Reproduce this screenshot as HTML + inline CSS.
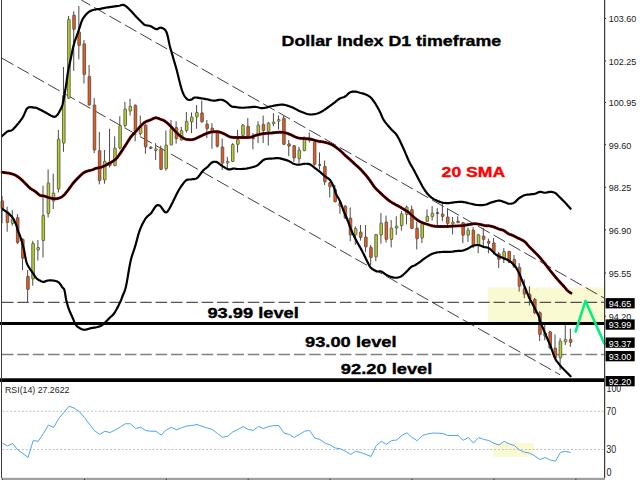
<!DOCTYPE html><html><head><meta charset="utf-8"><style>html,body{margin:0;padding:0;background:#fff;width:640px;height:480px;overflow:hidden}svg{display:block}text{font-family:"Liberation Sans",sans-serif}</style></head><body>
<svg width="640" height="480" viewBox="0 0 640 480">
<rect x="0" y="0" width="640" height="480" fill="#fff"/>
<rect x="488" y="287.5" width="116" height="34.5" fill="#FAFAD2"/>
<rect x="493.1" y="442.9" width="41.2" height="13.9" fill="#FAFAD2"/>
<line x1="2" y1="302.3" x2="604" y2="302.3" stroke="#2a2a2a" stroke-width="1" stroke-dasharray="11.52 3.84"/>
<line x1="2" y1="354.5" x2="604" y2="354.5" stroke="#808080" stroke-width="1.3" stroke-dasharray="11.52 3.84"/>
<line x1="81.23" y1="0" x2="604" y2="297.98" stroke="#2a2a2a" stroke-width="0.9" stroke-dasharray="13.260 4.420" stroke-dashoffset="2.795"/>
<line x1="2" y1="58.23" x2="560" y2="374.73" stroke="#2a2a2a" stroke-width="0.9" stroke-dasharray="13.244 4.415"/>
<line x1="2.04" y1="195.80" x2="2.04" y2="223.30" stroke="#4a4a4a" stroke-width="1"/>
<rect x="1.04" y="200.80" width="2.6" height="7.50" rx="0.5" fill="#F05A14" stroke="#4a4a4a" stroke-width="0.8"/>
<line x1="7.16" y1="206.70" x2="7.16" y2="231.70" stroke="#4a4a4a" stroke-width="1"/>
<rect x="6.16" y="211.70" width="2.6" height="10.80" rx="0.5" fill="#F05A14" stroke="#4a4a4a" stroke-width="0.8"/>
<line x1="12.28" y1="210.00" x2="12.28" y2="225.80" stroke="#4a4a4a" stroke-width="1"/>
<rect x="11.28" y="219.20" width="2.6" height="4.10" rx="0.5" fill="#B9D21E" stroke="#4a4a4a" stroke-width="0.8"/>
<line x1="17.40" y1="214.20" x2="17.40" y2="244.20" stroke="#4a4a4a" stroke-width="1"/>
<rect x="16.40" y="217.50" width="2.6" height="25.00" rx="0.5" fill="#F05A14" stroke="#4a4a4a" stroke-width="0.8"/>
<line x1="22.52" y1="238.30" x2="22.52" y2="270.00" stroke="#4a4a4a" stroke-width="1"/>
<rect x="21.52" y="239.20" width="2.6" height="19.10" rx="0.5" fill="#F05A14" stroke="#4a4a4a" stroke-width="0.8"/>
<line x1="27.64" y1="270.00" x2="27.64" y2="302.00" stroke="#4a4a4a" stroke-width="1"/>
<rect x="26.64" y="276.25" width="2.6" height="13.15" rx="0.5" fill="#F05A14" stroke="#4a4a4a" stroke-width="0.8"/>
<line x1="32.76" y1="240.80" x2="32.76" y2="285.60" stroke="#4a4a4a" stroke-width="1"/>
<rect x="31.76" y="243.30" width="2.6" height="35.70" rx="0.5" fill="#B9D21E" stroke="#4a4a4a" stroke-width="0.8"/>
<line x1="37.88" y1="240.00" x2="37.88" y2="260.60" stroke="#4a4a4a" stroke-width="1"/>
<rect x="36.88" y="247.50" width="2.6" height="2.50" rx="0.5" fill="#B9D21E" stroke="#4a4a4a" stroke-width="0.8"/>
<line x1="43.00" y1="185.60" x2="43.00" y2="257.50" stroke="#4a4a4a" stroke-width="1"/>
<rect x="42.00" y="215.40" width="2.6" height="25.10" rx="0.5" fill="#B9D21E" stroke="#4a4a4a" stroke-width="0.8"/>
<line x1="48.12" y1="169.40" x2="48.12" y2="217.50" stroke="#4a4a4a" stroke-width="1"/>
<rect x="47.12" y="183.00" width="2.6" height="30.50" rx="0.5" fill="#B9D21E" stroke="#4a4a4a" stroke-width="0.8"/>
<line x1="53.24" y1="173.75" x2="53.24" y2="209.00" stroke="#4a4a4a" stroke-width="1"/>
<rect x="52.24" y="193.00" width="2.6" height="8.00" rx="0.5" fill="#B9D21E" stroke="#4a4a4a" stroke-width="0.8"/>
<line x1="58.36" y1="130.00" x2="58.36" y2="192.50" stroke="#4a4a4a" stroke-width="1"/>
<rect x="57.36" y="139.00" width="2.6" height="50.00" rx="0.5" fill="#B9D21E" stroke="#4a4a4a" stroke-width="0.8"/>
<line x1="63.48" y1="67.00" x2="63.48" y2="151.80" stroke="#4a4a4a" stroke-width="1"/>
<rect x="62.48" y="95.50" width="2.6" height="47.70" rx="0.5" fill="#B9D21E" stroke="#4a4a4a" stroke-width="0.8"/>
<line x1="68.60" y1="16.00" x2="68.60" y2="98.50" stroke="#4a4a4a" stroke-width="1"/>
<rect x="67.60" y="19.40" width="2.6" height="78.90" rx="0.5" fill="#B9D21E" stroke="#4a4a4a" stroke-width="0.8"/>
<line x1="73.72" y1="11.25" x2="73.72" y2="70.80" stroke="#4a4a4a" stroke-width="1"/>
<rect x="72.72" y="15.00" width="2.6" height="14.40" rx="0.5" fill="#F05A14" stroke="#4a4a4a" stroke-width="0.8"/>
<line x1="78.84" y1="6.00" x2="78.84" y2="59.40" stroke="#4a4a4a" stroke-width="1"/>
<rect x="77.84" y="31.90" width="2.6" height="13.70" rx="0.5" fill="#F05A14" stroke="#4a4a4a" stroke-width="0.8"/>
<line x1="83.96" y1="40.00" x2="83.96" y2="83.50" stroke="#4a4a4a" stroke-width="1"/>
<rect x="82.96" y="43.75" width="2.6" height="30.75" rx="0.5" fill="#F05A14" stroke="#4a4a4a" stroke-width="0.8"/>
<line x1="89.08" y1="65.00" x2="89.08" y2="105.60" stroke="#4a4a4a" stroke-width="1"/>
<rect x="88.08" y="76.40" width="2.6" height="28.60" rx="0.5" fill="#F05A14" stroke="#4a4a4a" stroke-width="0.8"/>
<line x1="94.20" y1="98.10" x2="94.20" y2="153.10" stroke="#4a4a4a" stroke-width="1"/>
<rect x="93.20" y="105.00" width="2.6" height="45.00" rx="0.5" fill="#F05A14" stroke="#4a4a4a" stroke-width="0.8"/>
<line x1="99.32" y1="131.90" x2="99.32" y2="184.40" stroke="#4a4a4a" stroke-width="1"/>
<rect x="98.32" y="150.60" width="2.6" height="30.00" rx="0.5" fill="#F05A14" stroke="#4a4a4a" stroke-width="0.8"/>
<line x1="104.44" y1="150.00" x2="104.44" y2="183.75" stroke="#4a4a4a" stroke-width="1"/>
<rect x="103.44" y="161.25" width="2.6" height="18.75" rx="0.5" fill="#B9D21E" stroke="#4a4a4a" stroke-width="0.8"/>
<line x1="109.56" y1="128.75" x2="109.56" y2="167.50" stroke="#4a4a4a" stroke-width="1"/>
<rect x="108.56" y="161.90" width="2.6" height="3.70" rx="0.5" fill="#F05A14" stroke="#4a4a4a" stroke-width="0.8"/>
<line x1="114.68" y1="136.25" x2="114.68" y2="166.25" stroke="#4a4a4a" stroke-width="1"/>
<rect x="113.68" y="148.10" width="2.6" height="17.50" rx="0.5" fill="#B9D21E" stroke="#4a4a4a" stroke-width="0.8"/>
<line x1="119.80" y1="116.25" x2="119.80" y2="149.40" stroke="#4a4a4a" stroke-width="1"/>
<rect x="118.80" y="125.60" width="2.6" height="22.50" rx="0.5" fill="#B9D21E" stroke="#4a4a4a" stroke-width="0.8"/>
<line x1="124.92" y1="101.90" x2="124.92" y2="127.50" stroke="#4a4a4a" stroke-width="1"/>
<rect x="123.92" y="109.00" width="2.6" height="16.60" rx="0.5" fill="#B9D21E" stroke="#4a4a4a" stroke-width="0.8"/>
<line x1="130.04" y1="98.75" x2="130.04" y2="115.60" stroke="#4a4a4a" stroke-width="1"/>
<rect x="129.04" y="106.25" width="2.6" height="4.75" rx="0.5" fill="#B9D21E" stroke="#4a4a4a" stroke-width="0.8"/>
<line x1="135.16" y1="104.40" x2="135.16" y2="141.25" stroke="#4a4a4a" stroke-width="1"/>
<rect x="134.16" y="105.25" width="2.6" height="26.00" rx="0.5" fill="#F05A14" stroke="#4a4a4a" stroke-width="0.8"/>
<line x1="140.28" y1="115.60" x2="140.28" y2="135.60" stroke="#4a4a4a" stroke-width="1"/>
<rect x="139.28" y="126.90" width="2.6" height="6.85" rx="0.5" fill="#B9D21E" stroke="#4a4a4a" stroke-width="0.8"/>
<line x1="145.40" y1="124.40" x2="145.40" y2="153.75" stroke="#4a4a4a" stroke-width="1"/>
<rect x="144.40" y="125.00" width="2.6" height="21.90" rx="0.5" fill="#F05A14" stroke="#4a4a4a" stroke-width="0.8"/>
<line x1="150.52" y1="146.50" x2="150.52" y2="149.00" stroke="#4a4a4a" stroke-width="1"/>
<rect x="149.52" y="146.90" width="2.6" height="1.60" rx="0.5" fill="#F05A14" stroke="#4a4a4a" stroke-width="0.8"/>
<line x1="155.64" y1="143.10" x2="155.64" y2="160.00" stroke="#4a4a4a" stroke-width="1"/>
<rect x="154.64" y="148.75" width="2.6" height="1.85" rx="0.5" fill="#B9D21E" stroke="#4a4a4a" stroke-width="0.8"/>
<line x1="160.76" y1="145.60" x2="160.76" y2="170.00" stroke="#4a4a4a" stroke-width="1"/>
<rect x="159.76" y="148.75" width="2.6" height="20.65" rx="0.5" fill="#F05A14" stroke="#4a4a4a" stroke-width="0.8"/>
<line x1="165.88" y1="130.60" x2="165.88" y2="170.60" stroke="#4a4a4a" stroke-width="1"/>
<rect x="164.88" y="145.00" width="2.6" height="23.75" rx="0.5" fill="#B9D21E" stroke="#4a4a4a" stroke-width="0.8"/>
<line x1="171.00" y1="120.00" x2="171.00" y2="145.00" stroke="#4a4a4a" stroke-width="1"/>
<rect x="170.00" y="128.75" width="2.6" height="16.25" rx="0.5" fill="#B9D21E" stroke="#4a4a4a" stroke-width="0.8"/>
<line x1="176.12" y1="121.25" x2="176.12" y2="143.75" stroke="#4a4a4a" stroke-width="1"/>
<rect x="175.12" y="127.50" width="2.6" height="11.25" rx="0.5" fill="#F05A14" stroke="#4a4a4a" stroke-width="0.8"/>
<line x1="181.24" y1="126.90" x2="181.24" y2="140.60" stroke="#4a4a4a" stroke-width="1"/>
<rect x="180.24" y="130.60" width="2.6" height="9.40" rx="0.5" fill="#B9D21E" stroke="#4a4a4a" stroke-width="0.8"/>
<line x1="186.36" y1="111.90" x2="186.36" y2="132.50" stroke="#4a4a4a" stroke-width="1"/>
<rect x="185.36" y="121.25" width="2.6" height="9.35" rx="0.5" fill="#B9D21E" stroke="#4a4a4a" stroke-width="0.8"/>
<line x1="191.48" y1="112.50" x2="191.48" y2="133.10" stroke="#4a4a4a" stroke-width="1"/>
<rect x="190.48" y="116.90" width="2.6" height="5.00" rx="0.5" fill="#B9D21E" stroke="#4a4a4a" stroke-width="0.8"/>
<line x1="196.60" y1="105.00" x2="196.60" y2="128.75" stroke="#4a4a4a" stroke-width="1"/>
<rect x="195.60" y="112.50" width="2.6" height="4.40" rx="0.5" fill="#B9D21E" stroke="#4a4a4a" stroke-width="0.8"/>
<line x1="201.72" y1="100.60" x2="201.72" y2="122.50" stroke="#4a4a4a" stroke-width="1"/>
<rect x="200.72" y="112.75" width="2.6" height="9.15" rx="0.5" fill="#F05A14" stroke="#4a4a4a" stroke-width="0.8"/>
<line x1="206.84" y1="120.00" x2="206.84" y2="138.10" stroke="#4a4a4a" stroke-width="1"/>
<rect x="205.84" y="124.00" width="2.6" height="4.75" rx="0.5" fill="#F05A14" stroke="#4a4a4a" stroke-width="0.8"/>
<line x1="211.96" y1="123.10" x2="211.96" y2="148.75" stroke="#4a4a4a" stroke-width="1"/>
<rect x="210.96" y="128.10" width="2.6" height="3.15" rx="0.5" fill="#F05A14" stroke="#4a4a4a" stroke-width="0.8"/>
<line x1="217.08" y1="130.00" x2="217.08" y2="147.50" stroke="#4a4a4a" stroke-width="1"/>
<rect x="216.08" y="130.60" width="2.6" height="15.65" rx="0.5" fill="#F05A14" stroke="#4a4a4a" stroke-width="0.8"/>
<line x1="222.20" y1="138.75" x2="222.20" y2="170.00" stroke="#4a4a4a" stroke-width="1"/>
<rect x="221.20" y="146.90" width="2.6" height="16.20" rx="0.5" fill="#F05A14" stroke="#4a4a4a" stroke-width="0.8"/>
<line x1="227.32" y1="156.90" x2="227.32" y2="168.10" stroke="#4a4a4a" stroke-width="1"/>
<rect x="226.32" y="161.25" width="2.6" height="1.85" rx="0.5" fill="#B9D21E" stroke="#4a4a4a" stroke-width="0.8"/>
<line x1="232.44" y1="143.10" x2="232.44" y2="162.00" stroke="#4a4a4a" stroke-width="1"/>
<rect x="231.44" y="144.40" width="2.6" height="17.10" rx="0.5" fill="#B9D21E" stroke="#4a4a4a" stroke-width="0.8"/>
<line x1="237.56" y1="130.00" x2="237.56" y2="152.50" stroke="#4a4a4a" stroke-width="1"/>
<rect x="236.56" y="139.40" width="2.6" height="5.00" rx="0.5" fill="#B9D21E" stroke="#4a4a4a" stroke-width="0.8"/>
<line x1="242.68" y1="124.00" x2="242.68" y2="136.00" stroke="#4a4a4a" stroke-width="1"/>
<rect x="241.68" y="125.00" width="2.6" height="10.60" rx="0.5" fill="#B9D21E" stroke="#4a4a4a" stroke-width="0.8"/>
<line x1="247.80" y1="118.10" x2="247.80" y2="137.50" stroke="#4a4a4a" stroke-width="1"/>
<rect x="246.80" y="126.25" width="2.6" height="10.00" rx="0.5" fill="#F05A14" stroke="#4a4a4a" stroke-width="0.8"/>
<line x1="252.92" y1="133.10" x2="252.92" y2="149.40" stroke="#4a4a4a" stroke-width="1"/>
<rect x="251.92" y="137.50" width="2.6" height="1.25" rx="0.5" fill="#F05A14" stroke="#4a4a4a" stroke-width="0.8"/>
<line x1="258.04" y1="121.25" x2="258.04" y2="143.10" stroke="#4a4a4a" stroke-width="1"/>
<rect x="257.04" y="125.00" width="2.6" height="9.40" rx="0.5" fill="#B9D21E" stroke="#4a4a4a" stroke-width="0.8"/>
<line x1="263.16" y1="115.60" x2="263.16" y2="143.10" stroke="#4a4a4a" stroke-width="1"/>
<rect x="262.16" y="124.40" width="2.6" height="6.20" rx="0.5" fill="#F05A14" stroke="#4a4a4a" stroke-width="0.8"/>
<line x1="268.28" y1="121.90" x2="268.28" y2="145.60" stroke="#4a4a4a" stroke-width="1"/>
<rect x="267.28" y="123.10" width="2.6" height="8.15" rx="0.5" fill="#B9D21E" stroke="#4a4a4a" stroke-width="0.8"/>
<line x1="273.40" y1="113.10" x2="273.40" y2="126.25" stroke="#4a4a4a" stroke-width="1"/>
<rect x="272.40" y="121.90" width="2.6" height="1.85" rx="0.5" fill="#B9D21E" stroke="#4a4a4a" stroke-width="0.8"/>
<line x1="278.52" y1="115.60" x2="278.52" y2="129.40" stroke="#4a4a4a" stroke-width="1"/>
<rect x="277.52" y="119.40" width="2.6" height="1.85" rx="0.5" fill="#B9D21E" stroke="#4a4a4a" stroke-width="0.8"/>
<line x1="283.64" y1="115.60" x2="283.64" y2="145.00" stroke="#4a4a4a" stroke-width="1"/>
<rect x="282.64" y="118.10" width="2.6" height="26.30" rx="0.5" fill="#F05A14" stroke="#4a4a4a" stroke-width="0.8"/>
<line x1="288.76" y1="140.00" x2="288.76" y2="156.25" stroke="#4a4a4a" stroke-width="1"/>
<rect x="287.76" y="143.75" width="2.6" height="2.50" rx="0.5" fill="#F05A14" stroke="#4a4a4a" stroke-width="0.8"/>
<line x1="293.88" y1="145.00" x2="293.88" y2="161.90" stroke="#4a4a4a" stroke-width="1"/>
<rect x="292.88" y="145.60" width="2.6" height="12.50" rx="0.5" fill="#F05A14" stroke="#4a4a4a" stroke-width="0.8"/>
<line x1="299.00" y1="146.90" x2="299.00" y2="163.75" stroke="#4a4a4a" stroke-width="1"/>
<rect x="298.00" y="150.00" width="2.6" height="8.75" rx="0.5" fill="#B9D21E" stroke="#4a4a4a" stroke-width="0.8"/>
<line x1="304.12" y1="136.25" x2="304.12" y2="151.25" stroke="#4a4a4a" stroke-width="1"/>
<rect x="303.12" y="139.40" width="2.6" height="11.20" rx="0.5" fill="#B9D21E" stroke="#4a4a4a" stroke-width="0.8"/>
<line x1="309.24" y1="132.50" x2="309.24" y2="142.50" stroke="#4a4a4a" stroke-width="1"/>
<rect x="308.24" y="138.50" width="2.6" height="2.00" rx="0.5" fill="#F05A14" stroke="#4a4a4a" stroke-width="0.8"/>
<line x1="314.36" y1="141.00" x2="314.36" y2="165.60" stroke="#4a4a4a" stroke-width="1"/>
<rect x="313.36" y="141.90" width="2.6" height="22.50" rx="0.5" fill="#F05A14" stroke="#4a4a4a" stroke-width="0.8"/>
<line x1="319.48" y1="152.50" x2="319.48" y2="169.40" stroke="#4a4a4a" stroke-width="1"/>
<rect x="318.48" y="164.40" width="2.6" height="1.00" rx="0.5" fill="#333" stroke="#4a4a4a" stroke-width="0.8"/>
<line x1="324.60" y1="160.60" x2="324.60" y2="185.00" stroke="#4a4a4a" stroke-width="1"/>
<rect x="323.60" y="166.25" width="2.6" height="15.65" rx="0.5" fill="#F05A14" stroke="#4a4a4a" stroke-width="0.8"/>
<line x1="329.72" y1="182.00" x2="329.72" y2="197.50" stroke="#4a4a4a" stroke-width="1"/>
<rect x="328.72" y="182.50" width="2.6" height="4.40" rx="0.5" fill="#F05A14" stroke="#4a4a4a" stroke-width="0.8"/>
<line x1="334.84" y1="185.00" x2="334.84" y2="202.00" stroke="#4a4a4a" stroke-width="1"/>
<rect x="333.84" y="189.40" width="2.6" height="12.50" rx="0.5" fill="#F05A14" stroke="#4a4a4a" stroke-width="0.8"/>
<line x1="339.96" y1="202.00" x2="339.96" y2="213.75" stroke="#4a4a4a" stroke-width="1"/>
<rect x="338.96" y="202.50" width="2.6" height="3.75" rx="0.5" fill="#F05A14" stroke="#4a4a4a" stroke-width="0.8"/>
<line x1="345.08" y1="205.00" x2="345.08" y2="219.00" stroke="#4a4a4a" stroke-width="1"/>
<rect x="344.08" y="206.25" width="2.6" height="11.85" rx="0.5" fill="#F05A14" stroke="#4a4a4a" stroke-width="0.8"/>
<line x1="350.20" y1="207.50" x2="350.20" y2="241.25" stroke="#4a4a4a" stroke-width="1"/>
<rect x="349.20" y="218.10" width="2.6" height="16.90" rx="0.5" fill="#F05A14" stroke="#4a4a4a" stroke-width="0.8"/>
<line x1="355.32" y1="226.25" x2="355.32" y2="245.00" stroke="#4a4a4a" stroke-width="1"/>
<rect x="354.32" y="228.50" width="2.6" height="6.25" rx="0.5" fill="#B9D21E" stroke="#4a4a4a" stroke-width="0.8"/>
<line x1="360.44" y1="225.00" x2="360.44" y2="240.60" stroke="#4a4a4a" stroke-width="1"/>
<rect x="359.44" y="231.90" width="2.6" height="5.60" rx="0.5" fill="#F05A14" stroke="#4a4a4a" stroke-width="0.8"/>
<line x1="365.56" y1="225.00" x2="365.56" y2="251.90" stroke="#4a4a4a" stroke-width="1"/>
<rect x="364.56" y="236.90" width="2.6" height="10.00" rx="0.5" fill="#F05A14" stroke="#4a4a4a" stroke-width="0.8"/>
<line x1="370.68" y1="245.00" x2="370.68" y2="265.00" stroke="#4a4a4a" stroke-width="1"/>
<rect x="369.68" y="247.25" width="2.6" height="10.25" rx="0.5" fill="#F05A14" stroke="#4a4a4a" stroke-width="0.8"/>
<line x1="375.80" y1="234.00" x2="375.80" y2="261.25" stroke="#4a4a4a" stroke-width="1"/>
<rect x="374.80" y="234.40" width="2.6" height="22.50" rx="0.5" fill="#B9D21E" stroke="#4a4a4a" stroke-width="0.8"/>
<line x1="380.92" y1="213.10" x2="380.92" y2="243.75" stroke="#4a4a4a" stroke-width="1"/>
<rect x="379.92" y="223.10" width="2.6" height="11.90" rx="0.5" fill="#B9D21E" stroke="#4a4a4a" stroke-width="0.8"/>
<line x1="386.04" y1="215.60" x2="386.04" y2="242.50" stroke="#4a4a4a" stroke-width="1"/>
<rect x="385.04" y="221.90" width="2.6" height="17.50" rx="0.5" fill="#F05A14" stroke="#4a4a4a" stroke-width="0.8"/>
<line x1="391.16" y1="220.00" x2="391.16" y2="247.50" stroke="#4a4a4a" stroke-width="1"/>
<rect x="390.16" y="228.10" width="2.6" height="11.30" rx="0.5" fill="#B9D21E" stroke="#4a4a4a" stroke-width="0.8"/>
<line x1="396.28" y1="216.25" x2="396.28" y2="235.00" stroke="#4a4a4a" stroke-width="1"/>
<rect x="395.28" y="226.25" width="2.6" height="1.85" rx="0.5" fill="#B9D21E" stroke="#4a4a4a" stroke-width="0.8"/>
<line x1="401.40" y1="211.25" x2="401.40" y2="230.60" stroke="#4a4a4a" stroke-width="1"/>
<rect x="400.40" y="213.75" width="2.6" height="11.85" rx="0.5" fill="#B9D21E" stroke="#4a4a4a" stroke-width="0.8"/>
<line x1="406.52" y1="205.60" x2="406.52" y2="224.40" stroke="#4a4a4a" stroke-width="1"/>
<rect x="405.52" y="206.90" width="2.6" height="7.50" rx="0.5" fill="#B9D21E" stroke="#4a4a4a" stroke-width="0.8"/>
<line x1="411.64" y1="205.60" x2="411.64" y2="229.00" stroke="#4a4a4a" stroke-width="1"/>
<rect x="410.64" y="209.40" width="2.6" height="19.10" rx="0.5" fill="#F05A14" stroke="#4a4a4a" stroke-width="0.8"/>
<line x1="416.76" y1="221.90" x2="416.76" y2="249.40" stroke="#4a4a4a" stroke-width="1"/>
<rect x="415.76" y="228.10" width="2.6" height="10.65" rx="0.5" fill="#F05A14" stroke="#4a4a4a" stroke-width="0.8"/>
<line x1="421.88" y1="222.00" x2="421.88" y2="243.10" stroke="#4a4a4a" stroke-width="1"/>
<rect x="420.88" y="223.75" width="2.6" height="14.35" rx="0.5" fill="#B9D21E" stroke="#4a4a4a" stroke-width="0.8"/>
<line x1="427.00" y1="209.40" x2="427.00" y2="221.90" stroke="#4a4a4a" stroke-width="1"/>
<rect x="426.00" y="216.25" width="2.6" height="5.00" rx="0.5" fill="#B9D21E" stroke="#4a4a4a" stroke-width="0.8"/>
<line x1="432.12" y1="206.25" x2="432.12" y2="220.60" stroke="#4a4a4a" stroke-width="1"/>
<rect x="431.12" y="213.10" width="2.6" height="3.40" rx="0.5" fill="#B9D21E" stroke="#4a4a4a" stroke-width="0.8"/>
<line x1="437.24" y1="208.10" x2="437.24" y2="225.00" stroke="#4a4a4a" stroke-width="1"/>
<rect x="436.24" y="212.60" width="2.6" height="1.00" rx="0.5" fill="#333" stroke="#4a4a4a" stroke-width="0.8"/>
<line x1="442.36" y1="203.10" x2="442.36" y2="221.25" stroke="#4a4a4a" stroke-width="1"/>
<rect x="441.36" y="214.00" width="2.6" height="2.50" rx="0.5" fill="#F05A14" stroke="#4a4a4a" stroke-width="0.8"/>
<line x1="447.48" y1="208.10" x2="447.48" y2="225.00" stroke="#4a4a4a" stroke-width="1"/>
<rect x="446.48" y="216.90" width="2.6" height="6.60" rx="0.5" fill="#F05A14" stroke="#4a4a4a" stroke-width="0.8"/>
<line x1="452.60" y1="216.90" x2="452.60" y2="234.40" stroke="#4a4a4a" stroke-width="1"/>
<rect x="451.60" y="221.90" width="2.6" height="2.10" rx="0.5" fill="#B9D21E" stroke="#4a4a4a" stroke-width="0.8"/>
<line x1="457.72" y1="216.25" x2="457.72" y2="223.00" stroke="#4a4a4a" stroke-width="1"/>
<rect x="456.72" y="221.00" width="2.6" height="1.75" rx="0.5" fill="#F05A14" stroke="#4a4a4a" stroke-width="0.8"/>
<line x1="462.84" y1="222.00" x2="462.84" y2="243.10" stroke="#4a4a4a" stroke-width="1"/>
<rect x="461.84" y="222.50" width="2.6" height="12.75" rx="0.5" fill="#F05A14" stroke="#4a4a4a" stroke-width="0.8"/>
<line x1="467.96" y1="227.50" x2="467.96" y2="241.90" stroke="#4a4a4a" stroke-width="1"/>
<rect x="466.96" y="230.00" width="2.6" height="5.25" rx="0.5" fill="#B9D21E" stroke="#4a4a4a" stroke-width="0.8"/>
<line x1="473.08" y1="227.25" x2="473.08" y2="248.10" stroke="#4a4a4a" stroke-width="1"/>
<rect x="472.08" y="230.00" width="2.6" height="15.00" rx="0.5" fill="#F05A14" stroke="#4a4a4a" stroke-width="0.8"/>
<line x1="478.20" y1="233.75" x2="478.20" y2="253.10" stroke="#4a4a4a" stroke-width="1"/>
<rect x="477.20" y="234.75" width="2.6" height="10.25" rx="0.5" fill="#B9D21E" stroke="#4a4a4a" stroke-width="0.8"/>
<line x1="483.32" y1="228.10" x2="483.32" y2="246.25" stroke="#4a4a4a" stroke-width="1"/>
<rect x="482.32" y="236.00" width="2.6" height="3.40" rx="0.5" fill="#F05A14" stroke="#4a4a4a" stroke-width="0.8"/>
<line x1="488.44" y1="238.75" x2="488.44" y2="253.25" stroke="#4a4a4a" stroke-width="1"/>
<rect x="487.44" y="241.25" width="2.6" height="2.05" rx="0.5" fill="#F05A14" stroke="#4a4a4a" stroke-width="0.8"/>
<line x1="493.56" y1="238.00" x2="493.56" y2="254.40" stroke="#4a4a4a" stroke-width="1"/>
<rect x="492.56" y="242.80" width="2.6" height="9.10" rx="0.5" fill="#F05A14" stroke="#4a4a4a" stroke-width="0.8"/>
<line x1="498.68" y1="251.90" x2="498.68" y2="268.10" stroke="#4a4a4a" stroke-width="1"/>
<rect x="497.68" y="253.75" width="2.6" height="5.65" rx="0.5" fill="#F05A14" stroke="#4a4a4a" stroke-width="0.8"/>
<line x1="503.80" y1="248.10" x2="503.80" y2="263.10" stroke="#4a4a4a" stroke-width="1"/>
<rect x="502.80" y="251.50" width="2.6" height="7.90" rx="0.5" fill="#B9D21E" stroke="#4a4a4a" stroke-width="0.8"/>
<line x1="508.92" y1="251.00" x2="508.92" y2="263.00" stroke="#4a4a4a" stroke-width="1"/>
<rect x="507.92" y="251.25" width="2.6" height="11.25" rx="0.5" fill="#F05A14" stroke="#4a4a4a" stroke-width="0.8"/>
<line x1="514.04" y1="255.00" x2="514.04" y2="268.00" stroke="#4a4a4a" stroke-width="1"/>
<rect x="513.04" y="259.40" width="2.6" height="7.50" rx="0.5" fill="#F05A14" stroke="#4a4a4a" stroke-width="0.8"/>
<line x1="519.16" y1="263.10" x2="519.16" y2="291.60" stroke="#4a4a4a" stroke-width="1"/>
<rect x="518.16" y="267.25" width="2.6" height="19.00" rx="0.5" fill="#F05A14" stroke="#4a4a4a" stroke-width="0.8"/>
<line x1="524.28" y1="279.40" x2="524.28" y2="298.10" stroke="#4a4a4a" stroke-width="1"/>
<rect x="523.28" y="288.40" width="2.6" height="5.70" rx="0.5" fill="#F05A14" stroke="#4a4a4a" stroke-width="0.8"/>
<line x1="529.40" y1="286.25" x2="529.40" y2="305.60" stroke="#4a4a4a" stroke-width="1"/>
<rect x="528.40" y="294.10" width="2.6" height="4.65" rx="0.5" fill="#F05A14" stroke="#4a4a4a" stroke-width="0.8"/>
<line x1="534.52" y1="298.00" x2="534.52" y2="313.75" stroke="#4a4a4a" stroke-width="1"/>
<rect x="533.52" y="299.10" width="2.6" height="14.00" rx="0.5" fill="#F05A14" stroke="#4a4a4a" stroke-width="0.8"/>
<line x1="539.64" y1="311.25" x2="539.64" y2="341.00" stroke="#4a4a4a" stroke-width="1"/>
<rect x="538.64" y="312.50" width="2.6" height="22.20" rx="0.5" fill="#F05A14" stroke="#4a4a4a" stroke-width="0.8"/>
<line x1="544.76" y1="325.00" x2="544.76" y2="340.30" stroke="#4a4a4a" stroke-width="1"/>
<rect x="543.76" y="333.00" width="2.6" height="3.00" rx="0.5" fill="#B9D21E" stroke="#4a4a4a" stroke-width="0.8"/>
<line x1="549.88" y1="330.60" x2="549.88" y2="349.00" stroke="#4a4a4a" stroke-width="1"/>
<rect x="548.88" y="331.70" width="2.6" height="16.40" rx="0.5" fill="#F05A14" stroke="#4a4a4a" stroke-width="0.8"/>
<line x1="555.00" y1="334.40" x2="555.00" y2="358.10" stroke="#4a4a4a" stroke-width="1"/>
<rect x="554.00" y="348.10" width="2.6" height="9.40" rx="0.5" fill="#F05A14" stroke="#4a4a4a" stroke-width="0.8"/>
<line x1="560.12" y1="338.10" x2="560.12" y2="370.00" stroke="#4a4a4a" stroke-width="1"/>
<rect x="559.12" y="341.00" width="2.6" height="16.75" rx="0.5" fill="#B9D21E" stroke="#4a4a4a" stroke-width="0.8"/>
<line x1="565.24" y1="325.00" x2="565.24" y2="345.00" stroke="#4a4a4a" stroke-width="1"/>
<rect x="564.24" y="339.40" width="2.6" height="2.50" rx="0.5" fill="#B9D21E" stroke="#4a4a4a" stroke-width="0.8"/>
<line x1="570.36" y1="328.75" x2="570.36" y2="346.90" stroke="#4a4a4a" stroke-width="1"/>
<rect x="569.36" y="339.40" width="2.6" height="3.10" rx="0.5" fill="#F05A14" stroke="#4a4a4a" stroke-width="0.8"/>
<polyline points="2.00,136.10 2.62,135.54 3.49,134.74 4.52,133.81 5.59,132.86 6.62,132.02 7.50,131.40 8.23,131.06 8.88,130.91 9.48,130.86 10.06,130.84 10.65,130.74 11.25,130.50 11.83,130.16 12.36,129.80 12.89,129.38 13.47,128.84 14.16,128.13 15.00,127.20 16.06,125.99 17.31,124.53 18.67,122.91 20.04,121.19 21.35,119.46 22.50,117.80 23.47,116.08 24.30,114.21 25.07,112.33 25.84,110.58 26.66,109.09 27.60,108.00 28.72,107.39 29.98,107.16 31.29,107.19 32.58,107.37 33.74,107.58 34.70,107.70 35.36,107.72 35.78,107.74 36.08,107.79 36.38,107.90 36.81,108.09 37.50,108.40 38.47,108.85 39.62,109.41 40.90,110.06 42.26,110.77 43.64,111.49 45.00,112.20 46.40,112.98 47.90,113.88 49.43,114.79 50.91,115.63 52.26,116.30 53.40,116.70 54.31,116.81 55.04,116.70 55.65,116.41 56.18,116.00 56.68,115.52 57.20,115.00 57.73,114.42 58.22,113.74 58.69,112.99 59.13,112.18 59.57,111.34 60.00,110.50 60.43,109.69 60.85,108.88 61.26,108.05 61.65,107.15 62.03,106.15 62.40,105.00 62.75,103.69 63.07,102.26 63.38,100.71 63.69,99.09 63.99,97.41 64.30,95.70 64.62,93.95 64.93,92.15 65.25,90.29 65.57,88.37 65.88,86.41 66.20,84.40 66.51,82.32 66.80,80.17 67.09,77.97 67.40,75.74 67.73,73.51 68.10,71.30 68.51,69.10 68.97,66.90 69.44,64.70 69.93,62.50 70.42,60.30 70.90,58.10 71.36,55.89 71.80,53.66 72.24,51.43 72.69,49.23 73.18,47.08 73.70,45.00 74.30,42.95 74.96,40.91 75.65,38.92 76.33,37.02 76.96,35.29 77.50,33.75 77.93,32.49 78.28,31.49 78.58,30.64 78.86,29.84 79.16,29.00 79.50,28.00 79.88,26.82 80.28,25.53 80.69,24.18 81.11,22.86 81.55,21.61 82.00,20.50 82.46,19.55 82.93,18.70 83.41,17.93 83.91,17.21 84.44,16.51 85.00,15.80 85.60,15.07 86.22,14.34 86.88,13.63 87.56,12.96 88.26,12.34 89.00,11.80 89.76,11.34 90.56,10.95 91.38,10.61 92.22,10.32 93.10,10.05 94.00,9.80 94.92,9.58 95.85,9.41 96.81,9.27 97.81,9.13 98.87,8.98 100.00,8.80 101.19,8.58 102.44,8.33 103.75,8.07 105.11,7.80 106.53,7.54 108.00,7.30 109.60,7.07 111.33,6.84 113.12,6.61 114.89,6.40 116.54,6.19 118.00,6.00 119.23,5.76 120.30,5.46 121.25,5.16 122.15,4.96 123.05,4.91 124.00,5.10 125.00,5.56 126.00,6.24 127.00,7.09 128.00,8.03 129.00,9.02 130.00,10.00 131.01,11.00 132.02,12.09 133.03,13.21 134.04,14.35 135.03,15.46 136.00,16.50 136.97,17.50 137.94,18.50 138.91,19.47 139.83,20.39 140.70,21.24 141.50,22.00 142.18,22.67 142.75,23.26 143.27,23.78 143.78,24.24 144.34,24.64 145.00,25.00 145.76,25.26 146.57,25.40 147.43,25.49 148.32,25.58 149.25,25.73 150.20,26.00 151.21,26.46 152.30,27.08 153.42,27.76 154.52,28.40 155.56,28.91 156.50,29.20 157.29,29.16 157.97,28.85 158.59,28.41 159.20,27.98 159.86,27.70 160.60,27.70 161.47,27.89 162.42,28.15 163.42,28.56 164.41,29.19 165.35,30.15 166.20,31.50 166.94,33.42 167.62,35.86 168.24,38.61 168.84,41.48 169.42,44.24 170.00,46.70 170.58,48.84 171.13,50.83 171.68,52.72 172.21,54.56 172.75,56.40 173.30,58.30 173.86,60.23 174.43,62.13 175.00,64.04 175.57,65.98 176.14,67.96 176.70,70.00 177.27,72.18 177.84,74.50 178.41,76.86 178.96,79.17 179.50,81.35 180.00,83.30 180.46,85.02 180.89,86.59 181.30,88.02 181.70,89.33 182.09,90.55 182.50,91.70 182.91,92.75 183.30,93.69 183.70,94.53 184.11,95.30 184.54,96.02 185.00,96.70 185.50,97.37 186.04,98.00 186.59,98.59 187.16,99.10 187.73,99.51 188.30,99.80 188.86,99.95 189.43,99.98 190.00,99.91 190.57,99.77 191.14,99.59 191.70,99.40 192.21,99.14 192.65,98.77 193.09,98.36 193.59,97.97 194.21,97.67 195.00,97.50 196.04,97.50 197.28,97.62 198.64,97.83 200.03,98.07 201.35,98.31 202.50,98.50 203.46,98.65 204.31,98.80 205.08,98.94 205.83,99.08 206.62,99.23 207.50,99.40 208.45,99.61 209.44,99.85 210.47,100.11 211.53,100.34 212.62,100.52 213.75,100.60 214.96,100.54 216.25,100.36 217.58,100.12 218.89,99.89 220.13,99.74 221.25,99.75 222.23,99.91 223.10,100.16 223.91,100.50 224.68,100.91 225.45,101.38 226.25,101.90 227.10,102.54 227.96,103.32 228.83,104.17 229.68,104.99 230.49,105.71 231.25,106.25 231.90,106.57 232.45,106.73 232.97,106.79 233.52,106.81 234.17,106.82 235.00,106.90 235.98,107.05 237.04,107.23 238.20,107.42 239.49,107.59 240.92,107.70 242.50,107.75 244.37,107.68 246.53,107.52 248.83,107.30 251.11,107.09 253.22,106.94 255.00,106.90 256.43,107.00 257.64,107.21 258.67,107.47 259.58,107.74 260.43,107.97 261.25,108.10 261.99,108.14 262.59,108.14 263.12,108.09 263.66,108.01 264.26,107.89 265.00,107.75 265.87,107.57 266.81,107.34 267.81,107.07 268.89,106.79 270.03,106.51 271.25,106.25 272.61,105.98 274.12,105.69 275.70,105.39 277.27,105.12 278.73,104.90 280.00,104.75 281.02,104.66 281.85,104.62 282.58,104.62 283.29,104.69 284.07,104.81 285.00,105.00 286.11,105.27 287.31,105.62 288.59,106.03 289.91,106.49 291.22,106.98 292.50,107.50 293.75,108.06 295.00,108.69 296.25,109.36 297.50,110.03 298.75,110.67 300.00,111.25 301.28,111.79 302.59,112.33 303.91,112.83 305.19,113.29 306.39,113.69 307.50,114.00 308.45,114.23 309.26,114.39 310.00,114.49 310.74,114.52 311.55,114.49 312.50,114.40 313.60,114.25 314.80,114.05 316.07,113.79 317.39,113.45 318.70,113.02 320.00,112.50 321.30,111.84 322.63,111.05 323.97,110.18 325.30,109.26 326.58,108.35 327.80,107.50 328.94,106.70 330.03,105.90 331.07,105.11 332.09,104.33 333.09,103.56 334.10,102.80 335.12,102.02 336.13,101.21 337.13,100.42 338.11,99.66 339.07,98.98 340.00,98.40 340.89,97.98 341.73,97.70 342.56,97.49 343.37,97.28 344.18,97.01 345.00,96.60 345.83,96.00 346.67,95.25 347.50,94.44 348.33,93.64 349.17,92.93 350.00,92.40 350.83,92.05 351.67,91.81 352.50,91.66 353.33,91.59 354.17,91.58 355.00,91.60 355.83,91.68 356.67,91.84 357.50,92.06 358.33,92.31 359.17,92.57 360.00,92.80 360.83,93.01 361.67,93.20 362.50,93.41 363.33,93.63 364.17,93.89 365.00,94.20 365.85,94.56 366.71,94.94 367.58,95.37 368.43,95.83 369.24,96.34 370.00,96.90 370.70,97.52 371.36,98.20 371.99,98.93 372.59,99.69 373.17,100.47 373.75,101.25 374.31,102.04 374.85,102.84 375.37,103.67 375.88,104.51 376.38,105.37 376.90,106.25 377.41,107.12 377.90,107.98 378.40,108.86 378.90,109.78 379.43,110.79 380.00,111.90 380.58,113.15 381.16,114.52 381.76,115.97 382.41,117.45 383.15,118.94 384.00,120.40 385.00,121.85 386.15,123.34 387.38,124.83 388.63,126.29 389.86,127.69 391.00,129.00 392.06,130.14 393.07,131.12 394.06,132.04 395.04,133.00 396.01,134.12 397.00,135.50 398.00,137.16 399.00,139.03 400.00,141.04 401.00,143.16 402.00,145.33 403.00,147.50 404.02,149.76 405.06,152.17 406.09,154.64 407.11,157.05 408.09,159.30 409.00,161.30 409.83,162.97 410.57,164.37 411.28,165.61 411.98,166.81 412.71,168.07 413.50,169.50 414.35,171.10 415.24,172.80 416.16,174.55 417.09,176.34 418.04,178.13 419.00,179.90 419.97,181.70 420.94,183.55 421.94,185.41 422.94,187.22 423.97,188.93 425.00,190.50 426.03,191.92 427.06,193.23 428.09,194.44 429.17,195.57 430.30,196.62 431.50,197.60 432.81,198.51 434.22,199.36 435.69,200.12 437.17,200.80 438.62,201.40 440.00,201.90 441.31,202.30 442.57,202.61 443.81,202.82 445.04,202.97 446.26,203.05 447.50,203.10 448.75,203.07 450.00,202.95 451.25,202.77 452.50,202.57 453.75,202.39 455.00,202.25 456.25,202.14 457.50,202.02 458.75,201.92 460.00,201.85 461.25,201.84 462.50,201.90 463.75,202.05 465.00,202.29 466.25,202.58 467.50,202.90 468.75,203.22 470.00,203.50 471.25,203.78 472.50,204.07 473.75,204.37 475.00,204.63 476.25,204.85 477.50,205.00 478.76,205.08 480.05,205.12 481.33,205.11 482.59,205.05 483.82,204.93 485.00,204.75 486.10,204.49 487.13,204.14 488.12,203.73 489.12,203.30 490.15,202.88 491.25,202.50 492.46,202.13 493.75,201.72 495.08,201.33 496.39,200.98 497.63,200.73 498.75,200.60 499.72,200.63 500.58,200.78 501.37,201.02 502.13,201.31 502.91,201.61 503.75,201.90 504.66,202.21 505.61,202.59 506.57,202.98 507.54,203.34 508.49,203.61 509.40,203.75 510.28,203.75 511.14,203.66 511.98,203.49 512.81,203.24 513.61,202.90 514.40,202.50 515.15,201.98 515.85,201.34 516.53,200.62 517.23,199.88 517.96,199.16 518.75,198.50 519.62,197.89 520.54,197.27 521.50,196.68 522.47,196.13 523.45,195.64 524.40,195.25 525.34,194.97 526.29,194.78 527.24,194.66 528.18,194.58 529.10,194.50 530.00,194.40 530.87,194.29 531.71,194.21 532.54,194.14 533.36,194.05 534.17,193.93 535.00,193.75 535.83,193.48 536.67,193.12 537.50,192.73 538.33,192.36 539.17,192.07 540.00,191.90 540.83,191.91 541.67,192.05 542.50,192.26 543.33,192.49 544.17,192.68 545.00,192.75 545.83,192.69 546.67,192.52 547.50,192.32 548.33,192.11 549.17,191.95 550.00,191.90 550.83,191.92 551.67,191.96 552.50,192.06 553.33,192.23 554.17,192.50 555.00,192.90 555.83,193.45 556.67,194.15 557.50,194.95 558.33,195.80 559.17,196.67 560.00,197.50 560.83,198.30 561.64,199.09 562.46,199.90 563.29,200.73 564.13,201.59 565.00,202.50 565.96,203.54 567.03,204.72 568.11,205.94 569.13,207.08 569.98,208.06 570.60,208.75" fill="none" stroke="#000" stroke-width="2.2" stroke-linejoin="round" stroke-linecap="round"/>
<polyline points="2.00,208.75 2.60,209.18 3.44,209.76 4.44,210.45 5.50,211.21 6.55,211.99 7.50,212.75 8.38,213.47 9.25,214.18 10.11,214.91 10.94,215.69 11.74,216.54 12.50,217.50 13.22,218.61 13.92,219.85 14.58,221.17 15.19,222.51 15.76,223.80 16.25,225.00 16.65,226.08 16.95,227.09 17.20,228.06 17.43,229.02 17.68,229.99 18.00,231.00 18.38,232.00 18.78,232.95 19.21,233.92 19.66,234.96 20.12,236.14 20.60,237.50 21.10,239.09 21.63,240.85 22.18,242.75 22.73,244.73 23.26,246.75 23.75,248.75 24.20,250.84 24.63,253.07 25.04,255.34 25.44,257.54 25.84,259.54 26.25,261.25 26.65,262.60 27.04,263.68 27.42,264.56 27.82,265.35 28.26,266.13 28.75,267.00 29.30,267.93 29.91,268.85 30.55,269.77 31.20,270.68 31.86,271.59 32.50,272.50 33.12,273.45 33.75,274.44 34.38,275.43 35.00,276.38 35.62,277.25 36.25,278.00 36.88,278.62 37.50,279.13 38.12,279.56 38.75,279.94 39.38,280.28 40.00,280.60 40.62,280.92 41.25,281.23 41.88,281.49 42.50,281.71 43.12,281.85 43.75,281.90 44.35,281.82 44.91,281.61 45.47,281.33 46.06,281.03 46.73,280.77 47.50,280.60 48.41,280.50 49.44,280.43 50.55,280.40 51.67,280.41 52.75,280.48 53.75,280.60 54.67,280.77 55.56,280.98 56.41,281.24 57.22,281.57 58.00,281.98 58.75,282.50 59.47,283.18 60.16,284.03 60.82,284.96 61.43,285.90 62.00,286.78 62.50,287.50 62.92,287.97 63.27,288.24 63.57,288.44 63.84,288.70 64.11,289.18 64.40,290.00 64.70,291.25 65.00,292.82 65.29,294.61 65.59,296.48 65.90,298.32 66.25,300.00 66.61,301.53 66.99,303.01 67.38,304.45 67.80,305.88 68.25,307.31 68.75,308.75 69.31,310.23 69.93,311.74 70.59,313.24 71.25,314.72 71.90,316.15 72.50,317.50 73.05,318.80 73.58,320.08 74.09,321.30 74.59,322.45 75.09,323.49 75.60,324.40 76.09,325.15 76.55,325.75 77.02,326.24 77.51,326.67 78.08,327.08 78.75,327.50 79.53,327.97 80.40,328.46 81.34,328.92 82.34,329.32 83.36,329.61 84.40,329.75 85.45,329.70 86.52,329.50 87.63,329.18 88.78,328.81 89.98,328.43 91.25,328.10 92.64,327.83 94.16,327.57 95.74,327.31 97.29,327.01 98.74,326.67 100.00,326.25 101.05,325.75 101.94,325.19 102.73,324.57 103.47,323.91 104.21,323.22 105.00,322.50 105.84,321.73 106.69,320.91 107.54,320.05 108.38,319.18 109.20,318.32 110.00,317.50 110.75,316.79 111.47,316.19 112.16,315.59 112.87,314.93 113.60,314.09 114.40,313.00 115.30,311.55 116.29,309.79 117.32,307.86 118.32,305.91 119.23,304.07 120.00,302.50 120.58,301.26 121.03,300.24 121.38,299.34 121.71,298.45 122.06,297.46 122.50,296.25 123.01,294.98 123.55,293.77 124.12,292.46 124.71,290.88 125.34,288.88 126.00,286.30 126.70,282.86 127.45,278.65 128.23,274.01 129.03,269.30 129.82,264.88 130.60,261.10 131.37,258.03 132.13,255.41 132.90,253.08 133.67,250.87 134.43,248.63 135.20,246.20 135.95,243.53 136.69,240.75 137.43,237.93 138.19,235.16 138.97,232.53 139.80,230.10 140.69,227.86 141.61,225.74 142.57,223.76 143.55,221.91 144.53,220.22 145.50,218.70 146.47,217.42 147.47,216.39 148.46,215.52 149.44,214.71 150.40,213.87 151.30,212.90 152.16,211.74 152.97,210.43 153.76,209.10 154.53,207.84 155.27,206.78 156.00,206.00 156.68,205.50 157.30,205.18 157.91,205.05 158.53,205.11 159.21,205.36 160.00,205.80 160.91,206.70 161.92,208.09 162.99,209.68 164.09,211.15 165.17,212.19 166.20,212.50 167.22,211.88 168.28,210.56 169.32,208.81 170.30,206.91 171.18,205.14 171.90,203.80 172.41,202.93 172.73,202.31 172.95,201.83 173.14,201.36 173.38,200.79 173.75,200.00 174.27,198.95 174.86,197.73 175.51,196.40 176.18,195.04 176.85,193.72 177.50,192.50 178.11,191.38 178.70,190.31 179.30,189.28 179.91,188.27 180.55,187.26 181.25,186.25 182.01,185.18 182.82,184.04 183.67,182.91 184.54,181.86 185.40,180.95 186.25,180.25 187.08,179.81 187.92,179.59 188.75,179.51 189.58,179.50 190.42,179.48 191.25,179.40 192.11,179.27 193.01,179.15 193.91,179.04 194.77,178.90 195.56,178.73 196.25,178.50 196.79,178.24 197.20,177.98 197.54,177.67 197.87,177.30 198.26,176.84 198.75,176.25 199.37,175.48 200.06,174.55 200.81,173.52 201.58,172.46 202.35,171.47 203.10,170.60 203.83,169.88 204.56,169.25 205.30,168.67 206.03,168.11 206.77,167.53 207.50,166.90 208.23,166.16 208.97,165.34 209.70,164.51 210.44,163.71 211.17,163.02 211.90,162.50 212.63,162.14 213.38,161.90 214.12,161.77 214.85,161.73 215.56,161.78 216.25,161.90 216.91,162.14 217.54,162.50 218.16,162.96 218.77,163.45 219.38,163.95 220.00,164.40 220.61,164.82 221.20,165.23 221.80,165.65 222.41,166.07 223.05,166.48 223.75,166.90 224.51,167.36 225.32,167.86 226.17,168.36 227.04,168.82 227.90,169.18 228.75,169.40 229.60,169.43 230.46,169.30 231.33,169.08 232.18,168.82 232.99,168.61 233.75,168.50 234.40,168.51 234.95,168.59 235.47,168.71 236.02,168.84 236.67,168.94 237.50,169.00 238.55,169.01 239.77,169.01 241.09,168.98 242.45,168.94 243.78,168.86 245.00,168.75 246.12,168.61 247.20,168.43 248.24,168.23 249.26,168.00 250.26,167.76 251.25,167.50 252.26,167.23 253.27,166.94 254.27,166.63 255.23,166.30 256.11,165.96 256.90,165.60 257.56,165.22 258.12,164.82 258.61,164.41 259.06,163.98 259.51,163.54 260.00,163.10 260.52,162.63 261.03,162.12 261.55,161.60 262.06,161.09 262.58,160.64 263.10,160.25 263.59,159.94 264.03,159.69 264.48,159.48 264.97,159.30 265.55,159.15 266.25,159.00 267.12,158.87 268.13,158.77 269.22,158.70 270.35,158.63 271.46,158.57 272.50,158.50 273.47,158.41 274.41,158.30 275.34,158.19 276.25,158.10 277.17,158.07 278.10,158.10 279.05,158.21 280.00,158.40 280.96,158.62 281.91,158.88 282.85,159.15 283.75,159.40 284.62,159.64 285.46,159.87 286.29,160.11 287.11,160.37 287.92,160.66 288.75,161.00 289.58,161.41 290.42,161.90 291.25,162.41 292.08,162.92 292.92,163.38 293.75,163.75 294.57,164.04 295.37,164.29 296.17,164.48 296.99,164.63 297.84,164.72 298.75,164.75 299.73,164.68 300.79,164.50 301.88,164.27 302.96,164.04 304.02,163.84 305.00,163.75 305.91,163.73 306.76,163.73 307.58,163.78 308.38,163.90 309.18,164.10 310.00,164.40 310.83,164.84 311.67,165.40 312.50,166.05 313.33,166.75 314.17,167.44 315.00,168.10 315.83,168.72 316.67,169.34 317.50,169.96 318.33,170.59 319.17,171.23 320.00,171.90 320.83,172.60 321.67,173.33 322.50,174.08 323.33,174.82 324.17,175.55 325.00,176.25 325.85,176.87 326.71,177.43 327.58,177.97 328.43,178.54 329.24,179.20 330.00,180.00 330.71,180.97 331.40,182.07 332.05,183.26 332.66,184.49 333.23,185.72 333.75,186.90 334.19,188.04 334.55,189.16 334.86,190.29 335.18,191.42 335.54,192.57 336.00,193.75 336.57,194.93 337.21,196.11 337.91,197.30 338.62,198.54 339.33,199.85 340.00,201.25 340.64,202.79 341.27,204.44 341.89,206.17 342.51,207.92 343.13,209.63 343.75,211.25 344.38,212.77 345.00,214.21 345.62,215.62 346.25,217.04 346.88,218.48 347.50,220.00 348.12,221.62 348.75,223.31 349.38,225.04 350.00,226.76 350.62,228.43 351.25,230.00 351.88,231.47 352.50,232.89 353.12,234.24 353.75,235.56 354.38,236.84 355.00,238.10 355.64,239.35 356.30,240.58 356.95,241.78 357.59,242.93 358.20,244.01 358.75,245.00 359.24,245.87 359.68,246.63 360.08,247.32 360.46,247.99 360.85,248.67 361.25,249.40 361.65,250.16 362.04,250.90 362.42,251.65 362.82,252.45 363.26,253.32 363.75,254.30 364.31,255.43 364.93,256.71 365.59,258.06 366.25,259.41 366.90,260.72 367.50,261.90 368.04,262.98 368.53,264.01 369.01,264.98 369.49,265.89 370.02,266.73 370.60,267.50 371.28,268.19 372.04,268.80 372.84,269.34 373.63,269.82 374.36,270.24 375.00,270.60 375.51,270.89 375.93,271.10 376.29,271.24 376.64,271.35 377.03,271.43 377.50,271.50 378.04,271.51 378.61,271.45 379.22,271.35 379.86,271.29 380.54,271.32 381.25,271.50 382.01,271.87 382.82,272.38 383.67,272.99 384.54,273.63 385.40,274.23 386.25,274.75 387.08,275.19 387.92,275.60 388.75,275.98 389.58,276.32 390.42,276.63 391.25,276.90 392.08,277.14 392.92,277.37 393.75,277.55 394.58,277.69 395.42,277.76 396.25,277.75 397.08,277.67 397.92,277.53 398.75,277.32 399.58,277.05 400.42,276.69 401.25,276.25 402.08,275.70 402.92,275.04 403.75,274.29 404.58,273.50 405.42,272.70 406.25,271.90 407.10,271.07 407.96,270.16 408.83,269.23 409.68,268.34 410.49,267.55 411.25,266.90 411.93,266.45 412.55,266.16 413.12,265.97 413.70,265.80 414.32,265.58 415.00,265.25 415.76,264.80 416.57,264.28 417.42,263.71 418.29,263.11 419.15,262.50 420.00,261.90 420.80,261.30 421.57,260.69 422.34,260.06 423.15,259.42 424.02,258.77 425.00,258.10 426.11,257.38 427.31,256.59 428.59,255.79 429.91,255.02 431.22,254.33 432.50,253.75 433.72,253.30 434.91,252.95 436.09,252.67 437.31,252.44 438.61,252.26 440.00,252.10 441.55,251.99 443.24,251.96 445.00,251.96 446.76,251.97 448.45,251.96 450.00,251.90 451.42,251.77 452.78,251.60 454.06,251.41 455.28,251.21 456.42,251.04 457.50,250.90 458.48,250.83 459.35,250.81 460.16,250.80 460.93,250.79 461.70,250.73 462.50,250.60 463.33,250.39 464.17,250.13 465.00,249.83 465.83,249.49 466.67,249.13 467.50,248.75 468.33,248.32 469.14,247.84 469.96,247.32 470.79,246.82 471.63,246.37 472.50,246.00 473.40,245.70 474.32,245.43 475.26,245.21 476.21,245.05 477.16,244.98 478.10,245.00 479.05,245.16 480.00,245.44 480.96,245.81 481.91,246.21 482.85,246.59 483.75,246.90 484.63,247.11 485.49,247.26 486.33,247.38 487.16,247.53 487.96,247.76 488.75,248.10 489.51,248.58 490.25,249.18 490.96,249.84 491.67,250.54 492.38,251.24 493.10,251.90 493.79,252.53 494.45,253.16 495.10,253.79 495.80,254.41 496.59,255.02 497.50,255.60 498.60,256.16 499.86,256.71 501.21,257.25 502.57,257.77 503.86,258.27 505.00,258.75 505.98,259.18 506.85,259.54 507.66,259.88 508.43,260.26 509.20,260.70 510.00,261.25 510.85,261.92 511.71,262.69 512.58,263.52 513.43,264.40 514.24,265.32 515.00,266.25 515.70,267.20 516.36,268.19 516.99,269.22 517.59,270.28 518.17,271.37 518.75,272.50 519.31,273.68 519.85,274.91 520.37,276.17 520.88,277.45 521.38,278.74 521.90,280.00 522.43,281.26 522.96,282.55 523.49,283.83 524.01,285.09 524.52,286.32 525.00,287.50 525.45,288.63 525.88,289.71 526.29,290.77 526.69,291.79 527.09,292.78 527.50,293.75 527.89,294.63 528.24,295.41 528.59,296.16 528.98,296.95 529.44,297.88 530.00,299.00 530.70,300.39 531.53,302.00 532.42,303.73 533.33,305.50 534.21,307.20 535.00,308.75 535.72,310.14 536.41,311.46 537.07,312.72 537.69,313.93 538.25,315.10 538.75,316.25 539.16,317.36 539.47,318.40 539.73,319.41 539.98,320.41 540.25,321.43 540.60,322.50 541.02,323.62 541.48,324.76 541.97,325.92 542.48,327.10 542.99,328.30 543.50,329.50 544.00,330.71 544.50,331.93 545.00,333.16 545.51,334.41 546.05,335.69 546.60,337.00 547.17,338.31 547.75,339.61 548.35,340.93 548.97,342.33 549.62,343.83 550.30,345.50 551.04,347.44 551.83,349.65 552.65,351.98 553.47,354.26 554.26,356.35 555.00,358.10 555.67,359.45 556.30,360.52 556.90,361.40 557.49,362.17 558.10,362.93 558.75,363.75 559.44,364.63 560.15,365.49 560.88,366.33 561.62,367.16 562.37,367.96 563.10,368.75 563.85,369.53 564.61,370.29 565.38,371.04 566.13,371.76 566.84,372.45 567.50,373.10 568.13,373.73 568.74,374.36 569.33,374.95 569.84,375.48 570.28,375.92 570.60,376.25" fill="none" stroke="#000" stroke-width="2.2" stroke-linejoin="round" stroke-linecap="round"/>
<polyline points="2.00,172.20 2.44,172.27 3.04,172.36 3.75,172.46 4.52,172.58 5.29,172.69 6.00,172.80 6.66,172.89 7.30,172.96 7.94,173.04 8.59,173.13 9.28,173.24 10.00,173.40 10.78,173.59 11.59,173.79 12.44,174.03 13.30,174.30 14.16,174.62 15.00,175.00 15.83,175.45 16.67,175.95 17.50,176.51 18.33,177.10 19.17,177.74 20.00,178.40 20.83,179.10 21.67,179.86 22.50,180.65 23.33,181.46 24.17,182.28 25.00,183.10 25.83,183.94 26.67,184.81 27.50,185.69 28.33,186.56 29.17,187.37 30.00,188.10 30.83,188.73 31.67,189.27 32.50,189.76 33.33,190.24 34.17,190.74 35.00,191.30 35.84,191.96 36.70,192.70 37.56,193.46 38.41,194.18 39.22,194.82 40.00,195.30 40.72,195.60 41.41,195.75 42.06,195.81 42.70,195.84 43.34,195.88 44.00,196.00 44.67,196.20 45.33,196.43 46.00,196.68 46.67,196.94 47.33,197.18 48.00,197.40 48.68,197.60 49.37,197.79 50.06,197.96 50.74,198.13 51.39,198.27 52.00,198.40 52.56,198.51 53.07,198.61 53.56,198.69 54.04,198.75 54.51,198.79 55.00,198.80 55.50,198.79 56.00,198.75 56.50,198.69 57.00,198.61 57.50,198.52 58.00,198.40 58.50,198.27 59.00,198.13 59.50,197.97 60.00,197.78 60.50,197.56 61.00,197.30 61.50,197.00 62.00,196.67 62.50,196.30 63.00,195.90 63.50,195.47 64.00,195.00 64.50,194.49 65.00,193.94 65.50,193.36 66.00,192.75 66.50,192.13 67.00,191.50 67.50,190.87 67.99,190.22 68.48,189.56 68.98,188.89 69.48,188.20 70.00,187.50 70.52,186.78 71.05,186.03 71.59,185.27 72.14,184.50 72.71,183.74 73.30,183.00 73.93,182.26 74.60,181.52 75.29,180.78 75.99,180.06 76.66,179.36 77.30,178.70 77.91,178.07 78.51,177.46 79.09,176.87 79.65,176.32 80.19,175.79 80.70,175.30 81.17,174.85 81.60,174.43 82.00,174.04 82.40,173.68 82.83,173.34 83.30,173.00 83.80,172.68 84.30,172.38 84.83,172.09 85.40,171.82 86.01,171.56 86.70,171.30 87.49,171.05 88.37,170.82 89.31,170.59 90.26,170.37 91.17,170.14 92.00,169.90 92.74,169.63 93.43,169.35 94.08,169.06 94.71,168.77 95.35,168.52 96.00,168.30 96.67,168.14 97.33,168.03 98.00,167.94 98.67,167.86 99.33,167.75 100.00,167.60 100.67,167.40 101.33,167.19 102.00,166.94 102.67,166.68 103.33,166.40 104.00,166.10 104.67,165.77 105.33,165.42 106.00,165.04 106.67,164.66 107.33,164.27 108.00,163.90 108.67,163.55 109.33,163.21 110.00,162.87 110.67,162.52 111.33,162.15 112.00,161.75 112.68,161.31 113.38,160.84 114.08,160.35 114.76,159.84 115.41,159.32 116.00,158.80 116.50,158.33 116.90,157.92 117.27,157.50 117.66,157.00 118.14,156.35 118.75,155.50 119.52,154.40 120.39,153.10 121.35,151.66 122.36,150.12 123.39,148.55 124.40,147.00 125.43,145.40 126.49,143.68 127.58,141.93 128.66,140.22 129.71,138.62 130.70,137.20 131.63,136.00 132.51,134.97 133.37,134.05 134.21,133.19 135.05,132.32 135.90,131.40 136.78,130.41 137.67,129.39 138.56,128.36 139.44,127.37 140.29,126.44 141.10,125.60 141.85,124.86 142.54,124.18 143.20,123.57 143.86,123.01 144.55,122.49 145.30,122.00 146.11,121.56 146.96,121.19 147.84,120.86 148.73,120.54 149.62,120.23 150.50,119.90 151.37,119.51 152.23,119.06 153.10,118.62 153.97,118.23 154.83,117.94 155.70,117.80 156.58,117.85 157.47,118.05 158.37,118.35 159.25,118.71 160.10,119.08 160.90,119.40 161.64,119.66 162.31,119.91 162.96,120.15 163.61,120.44 164.28,120.79 165.00,121.25 165.78,121.82 166.60,122.48 167.44,123.20 168.30,123.98 169.16,124.79 170.00,125.60 170.83,126.45 171.67,127.34 172.50,128.27 173.33,129.21 174.17,130.12 175.00,131.00 175.83,131.85 176.67,132.71 177.50,133.54 178.33,134.35 179.17,135.11 180.00,135.80 180.85,136.44 181.72,137.05 182.59,137.61 183.44,138.11 184.25,138.54 185.00,138.90 185.67,139.16 186.28,139.34 186.84,139.44 187.39,139.51 187.93,139.55 188.50,139.60 189.09,139.65 189.69,139.68 190.28,139.69 190.87,139.69 191.45,139.65 192.00,139.60 192.51,139.53 192.96,139.45 193.41,139.34 193.87,139.21 194.39,139.03 195.00,138.80 195.72,138.50 196.52,138.15 197.38,137.75 198.26,137.33 199.14,136.91 200.00,136.50 200.83,136.10 201.67,135.69 202.50,135.27 203.33,134.86 204.17,134.47 205.00,134.10 205.83,133.75 206.67,133.41 207.50,133.09 208.33,132.79 209.17,132.52 210.00,132.30 210.83,132.12 211.67,131.97 212.50,131.86 213.33,131.77 214.17,131.72 215.00,131.70 215.83,131.70 216.67,131.73 217.50,131.78 218.33,131.87 219.17,132.01 220.00,132.20 220.83,132.45 221.67,132.77 222.50,133.12 223.33,133.51 224.17,133.91 225.00,134.30 225.83,134.71 226.67,135.17 227.50,135.64 228.33,136.09 229.17,136.48 230.00,136.80 230.83,137.03 231.67,137.19 232.50,137.31 233.33,137.39 234.17,137.44 235.00,137.50 235.78,137.54 236.48,137.56 237.19,137.56 237.96,137.54 238.88,137.52 240.00,137.50 241.44,137.49 243.15,137.49 245.00,137.48 246.85,137.45 248.56,137.38 250.00,137.25 251.09,137.06 251.94,136.81 252.66,136.52 253.33,136.22 254.08,135.90 255.00,135.60 256.11,135.29 257.31,134.95 258.59,134.61 259.91,134.29 261.22,133.99 262.50,133.75 263.72,133.57 264.91,133.45 266.09,133.36 267.31,133.29 268.61,133.21 270.00,133.10 271.58,132.95 273.33,132.78 275.16,132.60 276.94,132.44 278.59,132.32 280.00,132.25 281.12,132.24 282.04,132.27 282.81,132.34 283.52,132.45 284.22,132.58 285.00,132.75 285.80,132.94 286.57,133.15 287.34,133.40 288.15,133.69 289.02,134.02 290.00,134.40 291.11,134.88 292.31,135.47 293.59,136.10 294.91,136.72 296.22,137.27 297.50,137.70 298.78,137.99 300.09,138.20 301.41,138.33 302.69,138.43 303.89,138.51 305.00,138.60 305.95,138.68 306.76,138.71 307.50,138.73 308.24,138.77 309.05,138.85 310.00,139.00 311.11,139.25 312.31,139.57 313.59,139.94 314.91,140.33 316.22,140.69 317.50,141.00 318.76,141.25 320.05,141.46 321.33,141.64 322.59,141.83 323.82,142.05 325.00,142.30 326.13,142.59 327.22,142.90 328.28,143.24 329.31,143.60 330.30,143.98 331.25,144.40 332.16,144.85 333.01,145.33 333.83,145.83 334.63,146.36 335.43,146.92 336.25,147.50 337.10,148.12 337.96,148.78 338.83,149.46 339.68,150.16 340.49,150.84 341.25,151.50 341.93,152.13 342.55,152.73 343.12,153.33 343.70,153.93 344.32,154.55 345.00,155.20 345.76,155.89 346.57,156.61 347.42,157.34 348.29,158.09 349.15,158.85 350.00,159.60 350.83,160.36 351.67,161.12 352.50,161.89 353.33,162.66 354.17,163.43 355.00,164.20 355.83,164.96 356.67,165.70 357.50,166.45 358.33,167.21 359.17,167.99 360.00,168.80 360.85,169.67 361.73,170.59 362.61,171.53 363.46,172.47 364.27,173.37 365.00,174.20 365.65,174.96 366.24,175.67 366.78,176.34 367.29,176.99 367.79,177.64 368.30,178.30 368.80,178.96 369.28,179.59 369.75,180.23 370.22,180.87 370.72,181.56 371.25,182.30 371.81,183.11 372.39,183.98 373.00,184.89 373.63,185.81 374.29,186.72 375.00,187.60 375.76,188.46 376.57,189.30 377.42,190.14 378.29,190.97 379.15,191.79 380.00,192.60 380.83,193.40 381.67,194.18 382.50,194.96 383.33,195.72 384.17,196.47 385.00,197.20 385.83,197.92 386.67,198.64 387.50,199.35 388.33,200.03 389.17,200.69 390.00,201.30 390.83,201.87 391.67,202.39 392.50,202.89 393.33,203.36 394.17,203.83 395.00,204.30 395.83,204.76 396.67,205.21 397.50,205.65 398.33,206.09 399.17,206.54 400.00,207.00 400.85,207.49 401.71,208.00 402.58,208.51 403.43,209.03 404.24,209.53 405.00,210.00 405.67,210.41 406.25,210.76 406.80,211.09 407.36,211.46 407.99,211.91 408.75,212.50 409.66,213.28 410.69,214.21 411.80,215.24 412.92,216.27 414.00,217.25 415.00,218.10 415.88,218.81 416.67,219.45 417.42,220.03 418.19,220.56 419.04,221.08 420.00,221.60 421.11,222.12 422.31,222.62 423.59,223.10 424.91,223.56 426.22,224.00 427.50,224.40 428.72,224.78 429.91,225.15 431.09,225.48 432.31,225.79 433.61,226.05 435.00,226.25 436.52,226.39 438.15,226.48 439.84,226.52 441.57,226.53 443.30,226.52 445.00,226.50 446.70,226.46 448.43,226.39 450.16,226.29 451.85,226.19 453.48,226.09 455.00,226.00 456.39,225.94 457.69,225.89 458.91,225.84 460.09,225.79 461.28,225.71 462.50,225.60 463.78,225.44 465.09,225.24 466.41,225.02 467.69,224.79 468.89,224.58 470.00,224.40 470.98,224.24 471.85,224.09 472.66,223.96 473.43,223.85 474.20,223.78 475.00,223.75 475.83,223.78 476.67,223.85 477.50,223.96 478.33,224.09 479.17,224.24 480.00,224.40 480.84,224.58 481.68,224.79 482.52,225.02 483.36,225.25 484.18,225.45 485.00,225.60 485.80,225.69 486.59,225.73 487.37,225.74 488.14,225.76 488.92,225.80 489.70,225.90 490.48,226.05 491.27,226.24 492.05,226.45 492.83,226.69 493.62,226.94 494.40,227.20 495.18,227.49 495.97,227.81 496.76,228.14 497.54,228.48 498.32,228.81 499.10,229.10 499.87,229.34 500.64,229.54 501.40,229.72 502.16,229.92 502.93,230.17 503.70,230.50 504.48,230.94 505.26,231.48 506.04,232.07 506.83,232.66 507.62,233.22 508.40,233.70 509.18,234.09 509.97,234.41 510.75,234.70 511.53,234.98 512.32,235.27 513.10,235.60 513.88,235.97 514.67,236.37 515.45,236.78 516.23,237.19 517.02,237.60 517.80,238.00 518.61,238.39 519.44,238.79 520.27,239.18 521.07,239.57 521.83,239.94 522.50,240.30 523.07,240.61 523.54,240.88 523.96,241.13 524.37,241.41 524.80,241.75 525.30,242.20 525.85,242.76 526.43,243.41 527.03,244.12 527.66,244.88 528.32,245.64 529.00,246.40 529.72,247.15 530.48,247.91 531.27,248.69 532.07,249.48 532.88,250.28 533.70,251.10 534.51,251.91 535.31,252.70 536.13,253.50 536.96,254.34 537.83,255.25 538.75,256.25 539.72,257.36 540.74,258.55 541.80,259.81 542.87,261.11 543.94,262.44 545.00,263.75 546.04,265.08 547.08,266.44 548.12,267.82 549.17,269.21 550.21,270.57 551.25,271.90 552.29,273.20 553.33,274.47 554.38,275.73 555.42,276.97 556.46,278.20 557.50,279.40 558.57,280.61 559.68,281.83 560.78,283.03 561.85,284.18 562.85,285.27 563.75,286.25 564.52,287.13 565.19,287.92 565.80,288.64 566.36,289.30 566.92,289.92 567.50,290.50 568.14,291.06 568.81,291.59 569.48,292.07 570.10,292.49 570.62,292.84 571.00,293.10" fill="none" stroke="#E00000" stroke-width="2.9" stroke-linejoin="round" stroke-linecap="round"/>
<polyline points="2.00,172.20 2.44,172.27 3.04,172.36 3.75,172.46 4.52,172.58 5.29,172.69 6.00,172.80 6.66,172.89 7.30,172.96 7.94,173.04 8.59,173.13 9.28,173.24 10.00,173.40 10.78,173.59 11.59,173.79 12.44,174.03 13.30,174.30 14.16,174.62 15.00,175.00 15.83,175.45 16.67,175.95 17.50,176.51 18.33,177.10 19.17,177.74 20.00,178.40 20.83,179.10 21.67,179.86 22.50,180.65 23.33,181.46 24.17,182.28 25.00,183.10 25.83,183.94 26.67,184.81 27.50,185.69 28.33,186.56 29.17,187.37 30.00,188.10 30.83,188.73 31.67,189.27 32.50,189.76 33.33,190.24 34.17,190.74 35.00,191.30 35.84,191.96 36.70,192.70 37.56,193.46 38.41,194.18 39.22,194.82 40.00,195.30 40.72,195.60 41.41,195.75 42.06,195.81 42.70,195.84 43.34,195.88 44.00,196.00 44.67,196.20 45.33,196.43 46.00,196.68 46.67,196.94 47.33,197.18 48.00,197.40 48.68,197.60 49.37,197.79 50.06,197.96 50.74,198.13 51.39,198.27 52.00,198.40 52.56,198.51 53.07,198.61 53.56,198.69 54.04,198.75 54.51,198.79 55.00,198.80 55.50,198.79 56.00,198.75 56.50,198.69 57.00,198.61 57.50,198.52 58.00,198.40 58.50,198.27 59.00,198.13 59.50,197.97 60.00,197.78 60.50,197.56 61.00,197.30 61.50,197.00 62.00,196.67 62.50,196.30 63.00,195.90 63.50,195.47 64.00,195.00 64.50,194.49 65.00,193.94 65.50,193.36 66.00,192.75 66.50,192.13 67.00,191.50 67.50,190.87 67.99,190.22 68.48,189.56 68.98,188.89 69.48,188.20 70.00,187.50 70.52,186.78 71.05,186.03 71.59,185.27 72.14,184.50 72.71,183.74 73.30,183.00 73.93,182.26 74.60,181.52 75.29,180.78 75.99,180.06 76.66,179.36 77.30,178.70 77.91,178.07 78.51,177.46 79.09,176.87 79.65,176.32 80.19,175.79 80.70,175.30 81.17,174.85 81.60,174.43 82.00,174.04 82.40,173.68 82.83,173.34 83.30,173.00 83.80,172.68 84.30,172.38 84.83,172.09 85.40,171.82 86.01,171.56 86.70,171.30 87.49,171.05 88.37,170.82 89.31,170.59 90.26,170.37 91.17,170.14 92.00,169.90 92.74,169.63 93.43,169.35 94.08,169.06 94.71,168.77 95.35,168.52 96.00,168.30 96.67,168.14 97.33,168.03 98.00,167.94 98.67,167.86 99.33,167.75 100.00,167.60 100.67,167.40 101.33,167.19 102.00,166.94 102.67,166.68 103.33,166.40 104.00,166.10 104.67,165.77 105.33,165.42 106.00,165.04 106.67,164.66 107.33,164.27 108.00,163.90 108.67,163.55 109.33,163.21 110.00,162.87 110.67,162.52 111.33,162.15 112.00,161.75 112.68,161.31 113.38,160.84 114.08,160.35 114.76,159.84 115.41,159.32 116.00,158.80 116.50,158.33 116.90,157.92 117.27,157.50 117.66,157.00 118.14,156.35 118.75,155.50 119.52,154.40 120.39,153.10 121.35,151.66 122.36,150.12 123.39,148.55 124.40,147.00 125.43,145.40 126.49,143.68 127.58,141.93 128.66,140.22 129.71,138.62 130.70,137.20 131.63,136.00 132.51,134.97 133.37,134.05 134.21,133.19 135.05,132.32 135.90,131.40 136.78,130.41 137.67,129.39 138.56,128.36 139.44,127.37 140.29,126.44 141.10,125.60 141.85,124.86 142.54,124.18 143.20,123.57 143.86,123.01 144.55,122.49 145.30,122.00 146.11,121.56 146.96,121.19 147.84,120.86 148.73,120.54 149.62,120.23 150.50,119.90 151.37,119.51 152.23,119.06 153.10,118.62 153.97,118.23 154.83,117.94 155.70,117.80 156.58,117.85 157.47,118.05 158.37,118.35 159.25,118.71 160.10,119.08 160.90,119.40 161.64,119.66 162.31,119.91 162.96,120.15 163.61,120.44 164.28,120.79 165.00,121.25 165.78,121.82 166.60,122.48 167.44,123.20 168.30,123.98 169.16,124.79 170.00,125.60 170.83,126.45 171.67,127.34 172.50,128.27 173.33,129.21 174.17,130.12 175.00,131.00 175.83,131.85 176.67,132.71 177.50,133.54 178.33,134.35 179.17,135.11 180.00,135.80 180.85,136.44 181.72,137.05 182.59,137.61 183.44,138.11 184.25,138.54 185.00,138.90 185.67,139.16 186.28,139.34 186.84,139.44 187.39,139.51 187.93,139.55 188.50,139.60 189.09,139.65 189.69,139.68 190.28,139.69 190.87,139.69 191.45,139.65 192.00,139.60 192.51,139.53 192.96,139.45 193.41,139.34 193.87,139.21 194.39,139.03 195.00,138.80 195.72,138.50 196.52,138.15 197.38,137.75 198.26,137.33 199.14,136.91 200.00,136.50 200.83,136.10 201.67,135.69 202.50,135.27 203.33,134.86 204.17,134.47 205.00,134.10 205.83,133.75 206.67,133.41 207.50,133.09 208.33,132.79 209.17,132.52 210.00,132.30 210.83,132.12 211.67,131.97 212.50,131.86 213.33,131.77 214.17,131.72 215.00,131.70 215.83,131.70 216.67,131.73 217.50,131.78 218.33,131.87 219.17,132.01 220.00,132.20 220.83,132.45 221.67,132.77 222.50,133.12 223.33,133.51 224.17,133.91 225.00,134.30 225.83,134.71 226.67,135.17 227.50,135.64 228.33,136.09 229.17,136.48 230.00,136.80 230.83,137.03 231.67,137.19 232.50,137.31 233.33,137.39 234.17,137.44 235.00,137.50 235.78,137.54 236.48,137.56 237.19,137.56 237.96,137.54 238.88,137.52 240.00,137.50 241.44,137.49 243.15,137.49 245.00,137.48 246.85,137.45 248.56,137.38 250.00,137.25 251.09,137.06 251.94,136.81 252.66,136.52 253.33,136.22 254.08,135.90 255.00,135.60 256.11,135.29 257.31,134.95 258.59,134.61 259.91,134.29 261.22,133.99 262.50,133.75 263.72,133.57 264.91,133.45 266.09,133.36 267.31,133.29 268.61,133.21 270.00,133.10 271.58,132.95 273.33,132.78 275.16,132.60 276.94,132.44 278.59,132.32 280.00,132.25 281.12,132.24 282.04,132.27 282.81,132.34 283.52,132.45 284.22,132.58 285.00,132.75 285.80,132.94 286.57,133.15 287.34,133.40 288.15,133.69 289.02,134.02 290.00,134.40 291.11,134.88 292.31,135.47 293.59,136.10 294.91,136.72 296.22,137.27 297.50,137.70 298.78,137.99 300.09,138.20 301.41,138.33 302.69,138.43 303.89,138.51 305.00,138.60 305.95,138.68 306.76,138.71 307.50,138.73 308.24,138.77 309.05,138.85 310.00,139.00 311.11,139.25 312.31,139.57 313.59,139.94 314.91,140.33 316.22,140.69 317.50,141.00 318.76,141.25 320.05,141.46 321.33,141.64 322.59,141.83 323.82,142.05 325.00,142.30 326.13,142.59 327.22,142.90 328.28,143.24 329.31,143.60 330.30,143.98 331.25,144.40 332.16,144.85 333.01,145.33 333.83,145.83 334.63,146.36 335.43,146.92 336.25,147.50 337.10,148.12 337.96,148.78 338.83,149.46 339.68,150.16 340.49,150.84 341.25,151.50 341.93,152.13 342.55,152.73 343.12,153.33 343.70,153.93 344.32,154.55 345.00,155.20 345.76,155.89 346.57,156.61 347.42,157.34 348.29,158.09 349.15,158.85 350.00,159.60 350.83,160.36 351.67,161.12 352.50,161.89 353.33,162.66 354.17,163.43 355.00,164.20 355.83,164.96 356.67,165.70 357.50,166.45 358.33,167.21 359.17,167.99 360.00,168.80 360.85,169.67 361.73,170.59 362.61,171.53 363.46,172.47 364.27,173.37 365.00,174.20 365.65,174.96 366.24,175.67 366.78,176.34 367.29,176.99 367.79,177.64 368.30,178.30 368.80,178.96 369.28,179.59 369.75,180.23 370.22,180.87 370.72,181.56 371.25,182.30 371.81,183.11 372.39,183.98 373.00,184.89 373.63,185.81 374.29,186.72 375.00,187.60 375.76,188.46 376.57,189.30 377.42,190.14 378.29,190.97 379.15,191.79 380.00,192.60 380.83,193.40 381.67,194.18 382.50,194.96 383.33,195.72 384.17,196.47 385.00,197.20 385.83,197.92 386.67,198.64 387.50,199.35 388.33,200.03 389.17,200.69 390.00,201.30 390.83,201.87 391.67,202.39 392.50,202.89 393.33,203.36 394.17,203.83 395.00,204.30 395.83,204.76 396.67,205.21 397.50,205.65 398.33,206.09 399.17,206.54 400.00,207.00 400.85,207.49 401.71,208.00 402.58,208.51 403.43,209.03 404.24,209.53 405.00,210.00 405.67,210.41 406.25,210.76 406.80,211.09 407.36,211.46 407.99,211.91 408.75,212.50 409.66,213.28 410.69,214.21 411.80,215.24 412.92,216.27 414.00,217.25 415.00,218.10 415.88,218.81 416.67,219.45 417.42,220.03 418.19,220.56 419.04,221.08 420.00,221.60 421.11,222.12 422.31,222.62 423.59,223.10 424.91,223.56 426.22,224.00 427.50,224.40 428.72,224.78 429.91,225.15 431.09,225.48 432.31,225.79 433.61,226.05 435.00,226.25 436.52,226.39 438.15,226.48 439.84,226.52 441.57,226.53 443.30,226.52 445.00,226.50 446.70,226.46 448.43,226.39 450.16,226.29 451.85,226.19 453.48,226.09 455.00,226.00 456.39,225.94 457.69,225.89 458.91,225.84 460.09,225.79 461.28,225.71 462.50,225.60 463.78,225.44 465.09,225.24 466.41,225.02 467.69,224.79 468.89,224.58 470.00,224.40 470.98,224.24 471.85,224.09 472.66,223.96 473.43,223.85 474.20,223.78 475.00,223.75 475.83,223.78 476.67,223.85 477.50,223.96 478.33,224.09 479.17,224.24 480.00,224.40 480.84,224.58 481.68,224.79 482.52,225.02 483.36,225.25 484.18,225.45 485.00,225.60 485.80,225.69 486.59,225.73 487.37,225.74 488.14,225.76 488.92,225.80 489.70,225.90 490.48,226.05 491.27,226.24 492.05,226.45 492.83,226.69 493.62,226.94 494.40,227.20 495.18,227.49 495.97,227.81 496.76,228.14 497.54,228.48 498.32,228.81 499.10,229.10 499.87,229.34 500.64,229.54 501.40,229.72 502.16,229.92 502.93,230.17 503.70,230.50 504.48,230.94 505.26,231.48 506.04,232.07 506.83,232.66 507.62,233.22 508.40,233.70 509.18,234.09 509.97,234.41 510.75,234.70 511.53,234.98 512.32,235.27 513.10,235.60 513.88,235.97 514.67,236.37 515.45,236.78 516.23,237.19 517.02,237.60 517.80,238.00 518.61,238.39 519.44,238.79 520.27,239.18 521.07,239.57 521.83,239.94 522.50,240.30 523.07,240.61 523.54,240.88 523.96,241.13 524.37,241.41 524.80,241.75 525.30,242.20 525.85,242.76 526.43,243.41 527.03,244.12 527.66,244.88 528.32,245.64 529.00,246.40 529.72,247.15 530.48,247.91 531.27,248.69 532.07,249.48 532.88,250.28 533.70,251.10 534.51,251.91 535.31,252.70 536.13,253.50 536.96,254.34 537.83,255.25 538.75,256.25 539.72,257.36 540.74,258.55 541.80,259.81 542.87,261.11 543.94,262.44 545.00,263.75 546.04,265.08 547.08,266.44 548.12,267.82 549.17,269.21 550.21,270.57 551.25,271.90 552.29,273.20 553.33,274.47 554.38,275.73 555.42,276.97 556.46,278.20 557.50,279.40 558.57,280.61 559.68,281.83 560.78,283.03 561.85,284.18 562.85,285.27 563.75,286.25 564.52,287.13 565.19,287.92 565.80,288.64 566.36,289.30 566.92,289.92 567.50,290.50 568.14,291.06 568.81,291.59 569.48,292.07 570.10,292.49 570.62,292.84 571.00,293.10" fill="none" stroke="#000" stroke-width="2.0" stroke-linejoin="round" stroke-linecap="round"/>
<rect x="0" y="322" width="604" height="3" fill="#000"/>
<rect x="0" y="378.3" width="604" height="3.7" fill="#000"/>
<polyline points="575.6,331.4 585.5,300.9 604.3,343.6" fill="none" stroke="#00F080" stroke-width="2.6" stroke-linejoin="round" stroke-linecap="round"/>
<line x1="2.6" y1="411.3" x2="604" y2="411.3" stroke="#c0c0c0" stroke-width="1" stroke-dasharray="1.92 1.92"/>
<line x1="2.6" y1="449.5" x2="604" y2="449.5" stroke="#c0c0c0" stroke-width="1" stroke-dasharray="1.92 1.92"/>
<polyline points="2.44,443.10 7.56,446.00 12.68,443.50 17.80,450.00 22.92,453.50 28.04,457.50 33.16,440.60 38.28,441.25 43.40,433.50 48.52,425.00 53.64,427.50 58.76,418.50 63.88,412.50 69.00,406.25 74.12,408.10 79.24,411.50 84.36,417.50 89.48,424.20 94.60,430.80 99.72,434.40 104.84,431.25 109.96,432.50 115.08,430.00 120.20,427.00 125.32,423.75 130.44,423.75 135.56,428.50 140.68,427.25 145.80,430.60 150.92,431.25 156.04,431.25 161.16,435.00 166.28,430.00 171.40,427.25 176.52,429.75 181.64,427.75 186.76,426.00 191.88,425.50 197.00,424.50 202.12,426.25 207.24,428.00 212.36,429.50 217.48,433.50 222.60,437.25 227.72,436.25 232.84,431.90 237.96,429.50 243.08,426.50 248.20,429.50 253.32,430.40 258.44,426.50 263.56,428.50 268.68,426.50 273.80,425.60 278.92,425.60 284.04,433.10 289.16,434.40 294.28,437.50 299.40,434.40 304.52,431.25 309.64,430.40 314.76,438.10 319.88,439.40 325.00,443.10 330.12,445.00 335.24,448.00 340.36,448.75 345.48,451.25 350.60,454.40 355.72,451.25 360.84,452.50 365.96,454.40 371.08,456.50 376.20,445.60 381.32,441.25 386.44,444.40 391.56,440.60 396.68,440.00 401.80,435.50 406.92,432.75 412.04,437.50 417.16,440.60 422.28,435.60 427.40,434.00 432.52,433.10 437.64,433.10 442.76,433.50 447.88,435.50 453.00,435.40 458.12,435.60 463.24,440.25 468.36,437.50 473.48,443.10 478.60,437.50 483.72,439.40 488.84,440.50 493.96,443.30 499.08,445.00 504.20,441.25 509.32,444.00 514.44,445.60 519.56,450.00 524.68,452.25 529.80,453.10 534.92,456.00 540.04,459.50 545.16,457.60 550.28,460.00 555.40,461.20 560.52,452.30 565.64,451.40 570.76,452.40" fill="none" stroke="#4EA3FC" stroke-width="1.0" stroke-linejoin="round"/>
<rect x="1" y="0" width="1" height="478" fill="#3a3a3a"/>
<rect x="604" y="0" width="1.2" height="478" fill="#3a3a3a"/>
<rect x="1.5" y="477.8" width="603.5" height="2.2" fill="#a0a0a0"/>
<rect x="1.94" y="478.6" width="1" height="1.4" fill="#3a3a3a"/>
<rect x="83.86" y="478.6" width="1" height="1.4" fill="#3a3a3a"/>
<rect x="165.78" y="478.6" width="1" height="1.4" fill="#3a3a3a"/>
<rect x="247.70" y="478.6" width="1" height="1.4" fill="#3a3a3a"/>
<rect x="329.62" y="478.6" width="1" height="1.4" fill="#3a3a3a"/>
<rect x="411.54" y="478.6" width="1" height="1.4" fill="#3a3a3a"/>
<rect x="493.46" y="478.6" width="1" height="1.4" fill="#3a3a3a"/>
<rect x="575.38" y="478.6" width="1" height="1.4" fill="#3a3a3a"/>
<rect x="604" y="18.00" width="2" height="1" fill="#333"/>
<text x="608.8" y="22.40" font-size="9.5" fill="#1a1a1a" textLength="27.6" lengthAdjust="spacingAndGlyphs">103.60</text>
<rect x="604" y="60.50" width="2" height="1" fill="#333"/>
<text x="608.8" y="64.90" font-size="9.5" fill="#1a1a1a" textLength="27.6" lengthAdjust="spacingAndGlyphs">102.25</text>
<rect x="604" y="102.00" width="2" height="1" fill="#333"/>
<text x="608.8" y="106.40" font-size="9.5" fill="#1a1a1a" textLength="27.6" lengthAdjust="spacingAndGlyphs">100.95</text>
<rect x="604" y="144.20" width="2" height="1" fill="#333"/>
<text x="608.8" y="148.60" font-size="9.5" fill="#1a1a1a" textLength="22.6" lengthAdjust="spacingAndGlyphs">99.60</text>
<rect x="604" y="186.80" width="2" height="1" fill="#333"/>
<text x="608.8" y="191.20" font-size="9.5" fill="#1a1a1a" textLength="22.6" lengthAdjust="spacingAndGlyphs">98.25</text>
<rect x="604" y="229.40" width="2" height="1" fill="#333"/>
<text x="608.8" y="233.80" font-size="9.5" fill="#1a1a1a" textLength="22.6" lengthAdjust="spacingAndGlyphs">96.90</text>
<rect x="604" y="272.50" width="2" height="1" fill="#333"/>
<text x="608.8" y="276.90" font-size="9.5" fill="#1a1a1a" textLength="22.6" lengthAdjust="spacingAndGlyphs">95.55</text>
<rect x="604" y="315.80" width="2" height="1" fill="#333"/>
<text x="608.8" y="320.20" font-size="9.5" fill="#1a1a1a" textLength="22.6" lengthAdjust="spacingAndGlyphs">94.20</text>
<text x="606.6" y="392.3" font-size="10.2" fill="#1a1a1a" textLength="14.6" lengthAdjust="spacingAndGlyphs">100</text>
<text x="606.3" y="414.8" font-size="10.2" fill="#1a1a1a" textLength="9.9" lengthAdjust="spacingAndGlyphs">70</text>
<text x="606.3" y="453.1" font-size="10.2" fill="#1a1a1a" textLength="9.9" lengthAdjust="spacingAndGlyphs">30</text>
<text x="606.6" y="476.0" font-size="10.2" fill="#1a1a1a" textLength="5" lengthAdjust="spacingAndGlyphs">0</text>
<rect x="605.6" y="298.10" width="29.1" height="10.3" fill="#000"/>
<text x="608.8" y="307.10" font-size="9.4" fill="#fff" textLength="22.5" lengthAdjust="spacingAndGlyphs">94.65</text>
<rect x="605.6" y="319.40" width="29.1" height="10.3" fill="#000"/>
<text x="608.8" y="328.40" font-size="9.4" fill="#fff" textLength="22.5" lengthAdjust="spacingAndGlyphs">93.99</text>
<rect x="605.6" y="337.50" width="29.1" height="10.3" fill="#000"/>
<text x="608.8" y="346.50" font-size="9.4" fill="#fff" textLength="22.5" lengthAdjust="spacingAndGlyphs">93.37</text>
<rect x="605.6" y="351.00" width="29.1" height="10.3" fill="#000"/>
<text x="608.8" y="360.00" font-size="9.4" fill="#fff" textLength="22.5" lengthAdjust="spacingAndGlyphs">93.00</text>
<rect x="605.6" y="376.00" width="29.1" height="10.3" fill="#000"/>
<text x="608.8" y="385.00" font-size="9.4" fill="#fff" textLength="22.5" lengthAdjust="spacingAndGlyphs">92.20</text>
<text x="5" y="392.9" font-size="9.2" fill="#222" textLength="64.4" lengthAdjust="spacingAndGlyphs">RSI(14) 27.2622</text>
<text x="281.6" y="46.2" font-weight="bold" font-size="14.5" stroke-width="0.35" fill="#000" stroke="#000" textLength="219.6" lengthAdjust="spacingAndGlyphs">Dollar Index D1 timeframe</text>
<text x="441.6" y="177.4" font-weight="bold" font-size="14.9" stroke-width="0.35" fill="#FF0000" stroke="#FF0000" textLength="63.6" lengthAdjust="spacingAndGlyphs">20 SMA</text>
<text x="207.4" y="318.2" font-weight="bold" font-size="14.5" stroke-width="0.35" fill="#000" stroke="#000" textLength="91.4" lengthAdjust="spacingAndGlyphs">93.99 level</text>
<text x="305" y="347.2" font-weight="bold" font-size="14.5" stroke-width="0.35" fill="#000" stroke="#000" textLength="91.6" lengthAdjust="spacingAndGlyphs">93.00 level</text>
<text x="340.8" y="374.3" font-weight="bold" font-size="14.5" stroke-width="0.35" fill="#000" stroke="#000" textLength="91.6" lengthAdjust="spacingAndGlyphs">92.20 level</text>
</svg></body></html>
